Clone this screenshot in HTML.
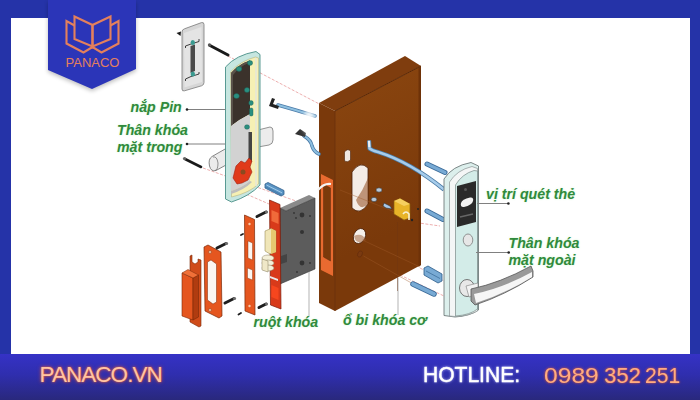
<!DOCTYPE html>
<html><head><meta charset="utf-8">
<style>
html,body{margin:0;padding:0;width:700px;height:400px;overflow:hidden;background:#2533a8;}
#root{position:relative;width:700px;height:400px;overflow:hidden;font-family:"Liberation Sans",sans-serif;}
.lbl{position:absolute;font-family:"Liberation Sans",sans-serif;font-weight:bold;font-style:italic;color:#308a3c;font-size:14.2px;line-height:16.6px;text-shadow:0 0 2px rgba(140,230,140,0.45);white-space:nowrap;}
.bt{position:absolute;white-space:nowrap;font-family:"Liberation Sans",sans-serif;}
</style></head>
<body><div id="root">
<svg width="700" height="400" viewBox="0 0 700 400" style="position:absolute;left:0;top:0">
 <defs>
  <linearGradient id="bar" x1="0" y1="0" x2="0" y2="1">
   <stop offset="0" stop-color="#3532c6"/>
   <stop offset="0.45" stop-color="#2f2eae"/>
   <stop offset="1" stop-color="#29287c"/>
  </linearGradient>
  <linearGradient id="door" gradientUnits="userSpaceOnUse" x1="335" y1="100" x2="400" y2="230"><stop offset="0" stop-color="#88440f"/><stop offset="1" stop-color="#7a390a"/></linearGradient>
  <filter id="sh" x="-20%" y="-20%" width="140%" height="140%"><feGaussianBlur stdDeviation="2"/></filter>
 </defs>
 <rect x="0" y="0" width="700" height="400" fill="#2533a8"/>
 <rect x="11" y="18" width="679" height="336" fill="#ffffff"/>
 <rect x="0" y="354" width="700" height="46" fill="url(#bar)"/>

 <!-- dashed lines (under door) -->
 <g stroke="#e89a9a" stroke-width="0.8" fill="none" stroke-dasharray="3,1.5">
  <line x1="228" y1="56" x2="325" y2="107"/>
  <line x1="203" y1="168" x2="296" y2="201"/>
  <line x1="230" y1="187" x2="269" y2="204"/>
  <line x1="400" y1="275" x2="444" y2="296"/>
  <line x1="420" y1="268" x2="446" y2="282"/>
  <line x1="412" y1="222" x2="440" y2="226"/>
 </g>
 <!-- door block -->
 <polygon points="319,103 405,56 421,66 335,111" fill="#7f3d0e"/>
 <polygon points="319,103 335,111 335,311 319,303" fill="#7a390b"/>
 <polygon points="335,111 421,66 421,265 335,311" fill="url(#door)"/>
 <polyline points="335,111 421,66" stroke="#5a2806" stroke-width="1" fill="none"/>
 <polygon points="418.5,67.5 421,66 421,265 418.5,266.5" fill="#6e3208"/>
 <polyline points="335,111 335,311" stroke="#6a300c" stroke-width="0.8" fill="none"/>
 <!-- door side pocket -->
 <polygon points="321,174 333,180 333,276 321,270" fill="#e86a30"/>
 <polygon points="323.5,184 330.5,188 330.5,261 323.5,257" fill="#7b3a0b" stroke="#5e2a0c" stroke-width="0.5"/>
 <path d="M318,190 Q324,183 331,184" stroke="#f4f4f4" stroke-width="2" fill="none"/>
 <!-- door front holes -->
 <path d="M344.5,152 Q347.5,148 350.5,151 L350.5,160 Q347.5,163 344.5,161 Z" fill="#f0e8e0" stroke="#4a2008" stroke-width="0.6"/>
 <path d="M352,172 Q360,160 368,168 L368,204 Q360,216 352,208 Z" fill="#f4ece6" stroke="#4a2008" stroke-width="0.8"/>
 <path d="M356,200 Q360,212 368,204 L368,178 Q363,190 356,200Z" fill="#9a5a30" opacity="0.6"/>
 <ellipse cx="359.5" cy="236" rx="5.8" ry="7.8" transform="rotate(25 359.5 236)" fill="#f6f0ea" stroke="#4a2008" stroke-width="0.8"/>
 <path d="M354,236 Q356,246 366,240 Q362,232 354,236Z" fill="#9a5a30" opacity="0.5"/>
 <ellipse cx="360" cy="254" rx="2.2" ry="3.2" transform="rotate(25 360 254)" fill="#7a3a10" stroke="#5e2a0c" stroke-width="0.5"/>
 <g stroke="#73360e" stroke-width="0.7" fill="none">
  <line x1="397.5" y1="222" x2="397.5" y2="291"/>
 </g>
 <g stroke="#a05a2a" stroke-width="0.6" fill="none" opacity="0.7">
  <line x1="362.5" y1="240" x2="420" y2="267"/>
  <line x1="363.5" y1="256" x2="415" y2="285"/>
  <line x1="340" y1="190" x2="395" y2="212"/>
 </g>
 <!-- cable hook -->
 <path d="M369,140.5 L369.5,148.5 Q372,150.5 378,152 Q410,162 444,189.5" stroke="#4a7aa4" stroke-width="4.2" fill="none" stroke-linejoin="round"/>
 <path d="M369,140.5 L369.5,148.5 Q372,150.5 378,152 Q410,162 444,189.5" stroke="#a6cceb" stroke-width="2.6" fill="none" stroke-linejoin="round"/>
 <line x1="369" y1="141" x2="369.3" y2="147" stroke="#f0f0f0" stroke-width="2"/>
 <!-- small pins -->
 <ellipse cx="379" cy="190" rx="3" ry="2.2" fill="#b8c8d8" stroke="#333" stroke-width="0.6"/>
 <ellipse cx="374" cy="199.5" rx="2.8" ry="2.2" fill="#b8c8d8" stroke="#333" stroke-width="0.6"/>
 <polygon points="384,203 390,206 392,209 386,208 383,206" fill="#a8c8e8" stroke="#333" stroke-width="0.6"/>
 <!-- cylinder -->
 <polygon points="394,201 400,198.5 410,204 410,218 404,220 394,214" fill="#e8b428" stroke="#8a6010" stroke-width="0.7"/>
 <polygon points="394,201 400,198.5 410,204 404,206" fill="#f6d060"/>
 <path d="M403,214 Q406,210 409,214 L409,220" stroke="#f8f0d0" stroke-width="1.6" fill="none"/>
 <circle cx="412" cy="220" r="1.2" fill="#222"/>
 <circle cx="418" cy="209" r="1" fill="#222"/>



 <!-- battery cover -->
 <path d="M182,32 Q182,29.5 184.5,28.8 L201.5,22.6 Q204,22 204,24.5 L204,82.5 Q204,85 201.5,85.8 L184.5,90.8 Q182,91.5 182,89 Z" fill="#d6d6d6" stroke="#7a7a7a" stroke-width="0.8"/>
 <path d="M184,33 L201.5,27 L202,82 L184.5,87.5 Z" fill="#e4e4e4"/>
 <polygon points="190.5,46 195,44.5 195,71 190.5,73" fill="#4a4a4a"/>
 <g stroke="#2a2a2a" stroke-width="0.9" fill="none">
  <polyline points="185.5,48 185.5,46 191,44 199,41.5 199,39"/>
  <polyline points="185.5,81 185.5,79 191,76.5 199,74 199,72"/>
 </g>
 <ellipse cx="192.8" cy="42.5" rx="2.2" ry="2.6" fill="#3a9a90"/>
 <ellipse cx="192.8" cy="74" rx="2.2" ry="2.6" fill="#3a9a90"/>
 <polygon points="176.5,33 181,31.5 180.5,36" fill="#1a1a1a"/>
 <line x1="210" y1="45.5" x2="228" y2="55" stroke="#1a1a1a" stroke-width="3" stroke-linecap="round"/>
 <circle cx="209.5" cy="45" r="1.7" fill="#555"/>
 <line x1="185" y1="159" x2="201" y2="167" stroke="#1a1a1a" stroke-width="2.6" stroke-linecap="round"/><circle cx="184.5" cy="158.5" r="1.6" fill="#666"/>

 <!-- inner handle lever -->
 <path d="M226,148.5 L212,156.5 Q208,159 209.5,166 Q211,172 216,170.5 L226,165 Z" fill="#ececec" stroke="#6a6a6a" stroke-width="0.8"/><path d="M213,157 Q217,156 218,163 Q218,170 215,170.5" fill="none" stroke="#6a6a6a" stroke-width="0.7"/>
 <path d="M258,130 L270,127 Q273,127 273,131 L273,140 Q273,144 269,145 L258,147 Z" fill="#ececec" stroke="#7a7a7a" stroke-width="0.8"/>

 <!-- inner lock body -->
 <path d="M225.5,67 Q236,55 256,51.5 L260,54.5 L260,185 Q250,196 231.5,202 L225.5,199 Z" fill="#c6e6e0" stroke="#4a9088" stroke-width="0.9"/>
 <path d="M230.5,72 Q240,61 255.5,57 L258.5,58 L258.5,184 Q249,193 231.5,197 Z" fill="#f6f0b4" stroke="#a8a878" stroke-width="0.5"/>
 <line x1="256" y1="58" x2="256" y2="186" stroke="#e8e8d8" stroke-width="1.6"/>
 <path d="M231,73 Q239,64 250,60.5 L250,114 Q240,119 231,126 Z" fill="#3b322b"/>
 <path d="M231,73 Q239,64 250,60.5 L250,62.5 Q240,66 233,75 L233,125 L231,126 Z" fill="#5a524a"/>
 <path d="M231,126 Q240,119 250,114 L250,181 Q243,187 231,191 Z" fill="#d2d2d2"/>
 <path d="M231,191 Q243,187 250,181 L252,182 Q244,190 231,194 Z" fill="#bdbdbd"/>
 <rect x="248.5" y="132" width="3.5" height="30" fill="#444"/>
 <path d="M236,166 L241,161 L245,163 L249,158 L252,161 L250,167 L252,172 L248,180 L242,183 L237,184 L233,178 Z" fill="#e03a1a" stroke="#a02010" stroke-width="0.6"/>
 <circle cx="243" cy="172" r="2.5" fill="#8a4a20"/>
 <g fill="#2a8f80" stroke="#1a5a50" stroke-width="0.4">
  <ellipse cx="239" cy="69" rx="2.8" ry="2.4"/><ellipse cx="250" cy="63" rx="2.6" ry="2.4"/><ellipse cx="236.5" cy="96" rx="2.8" ry="2.5"/>
  <ellipse cx="247" cy="90" rx="2.6" ry="2.5"/><ellipse cx="251" cy="103" rx="2.3" ry="2.4"/><rect x="249.5" y="108" width="3.5" height="8" rx="1.5"/>
  <ellipse cx="247" cy="127" rx="2.5" ry="2.3"/>
 </g>

 <!-- cables left -->
 <path d="M278,105 Q296,110 315,116" stroke="#4a7aa8" stroke-width="3.6" fill="none" stroke-linecap="round"/>
 <path d="M278,105 Q296,110 315,116" stroke="#8ec0e0" stroke-width="2" fill="none" stroke-linecap="round"/>
 <polygon points="269,106 272,98 275,99 273,104 279,106 278,109" fill="#222"/>
 <path d="M304,136 Q311,140 312,146 Q314,152 319,154" stroke="#4a7aa8" stroke-width="3.6" fill="none" stroke-linecap="round"/>
 <path d="M304,136 Q311,140 312,146 Q314,152 319,154" stroke="#8ec0e0" stroke-width="2" fill="none" stroke-linecap="round"/>
 <polygon points="295,134 300,129 306,133 305,137" fill="#333"/>

 <ellipse cx="309" cy="122" rx="6" ry="12" fill="#ffffff" opacity="0.9" filter="url(#sh)"/>
 <!-- blue pin between lock & mortise -->
 <polygon points="265,184 268,182.5 284,190.5 284,194.5 281,196 265,188" fill="#5a94c4" stroke="#2e5e8c" stroke-width="0.8"/>
 <line x1="266.5" y1="185" x2="282" y2="192.8" stroke="#a8d0ec" stroke-width="0.9"/>
 <line x1="266" y1="187" x2="281.5" y2="194.8" stroke="#3a70a0" stroke-width="0.7"/>
<!-- strike box -->
 <polygon points="190,256 192,255 192,262 195,264 198,262 198,259 201,260 201,326 199,327 190,322" fill="#d04c1a" stroke="#7a2a08" stroke-width="0.6"/>
 <polygon points="182,273 193,278 193,320 182,316" fill="#e5561f" stroke="#7a2a08" stroke-width="0.6"/>
 <polygon points="193,278 198.5,275 198.5,317 193,320" fill="#b03c10" stroke="#7a2a08" stroke-width="0.6"/>
 <polygon points="182,273 188,269.5 198.5,275 193,278" fill="#f07038" stroke="#7a2a08" stroke-width="0.5"/>
 <!-- strike plate -->
 <polygon points="204,247 208,245 221,252 222,316 219,318 205,311" fill="#e5561f" stroke="#7a2a08" stroke-width="0.7"/>
 <polygon points="207.5,262 211,260 216.5,264 216.5,302 213,304 207.5,300" fill="#fbf6f2" stroke="#7a2a08" stroke-width="0.5"/>
 <circle cx="210" cy="252" r="1.5" fill="#f6c0a0" stroke="#7a2a08" stroke-width="0.4"/>
 <circle cx="210" cy="310" r="1.5" fill="#f6c0a0" stroke="#7a2a08" stroke-width="0.4"/>
 <!-- third faceplate -->
 <polygon points="244.5,215 254.5,219.5 255,315 245,311" fill="#e5561f" stroke="#7a2a08" stroke-width="0.7"/>
 <polygon points="248,241 252.5,243 252.5,260 248,258" fill="#fbf6f2" stroke="#7a2a08" stroke-width="0.4"/>
 <polygon points="247.5,268 252.5,270 252.5,280 247.5,278" fill="#fbf6f2" stroke="#7a2a08" stroke-width="0.4"/>
 <circle cx="249.5" cy="224" r="1.2" fill="#f8c8a8"/>
 <circle cx="249.5" cy="306" r="1.2" fill="#f8c8a8"/>
 <!-- screws -->
 <g stroke="#1e1e1e" stroke-width="3" stroke-linecap="round">
  <line x1="217" y1="248" x2="226" y2="243.5"/>
  <line x1="225" y1="303" x2="234" y2="298.5"/>
  <line x1="257" y1="216.5" x2="266" y2="212"/>
  <line x1="259" y1="307.5" x2="266" y2="304"/>
 </g>
 <g fill="#707070">
  <circle cx="226.5" cy="243.5" r="1.6"/><circle cx="234.5" cy="298.5" r="1.6"/><circle cx="266.5" cy="212" r="1.6"/><circle cx="266.5" cy="304" r="1.5"/>
 </g>
 <g stroke="#1e1e1e" stroke-width="1.8" stroke-linecap="round">
  <line x1="238.5" y1="314.5" x2="241" y2="313"/>
  <line x1="241" y1="235" x2="243" y2="234"/>
 </g>
 <!-- mortise body -->
 <polygon points="280,208 309,195 315,198 286,211" fill="#8a8a8a"/>
 <polygon points="280,208 286,211 315,198 315,269 280,284" fill="#5c5c5c" stroke="#333" stroke-width="0.6"/>
 <g fill="#333">
  <circle cx="302" cy="215" r="2.4"/><circle cx="302" cy="232" r="2"/><circle cx="302" cy="263" r="2.4"/>
  <circle cx="294" cy="213" r="0.9"/><circle cx="296" cy="218" r="0.9"/><circle cx="310" cy="216" r="0.9"/>
  <circle cx="310" cy="263" r="0.9"/><circle cx="297" cy="272" r="0.9"/>
 </g>
 <polygon points="281,256 287,254 287,262 281,264" fill="#444"/>
 <!-- mortise faceplate -->
 <polygon points="269.5,200 280,204.5 281,309 270.5,305" fill="#d83a1a" stroke="#7a1a08" stroke-width="0.7"/>
 <polygon points="271.5,210 278.5,213 278.5,224 271.5,221" fill="#f06a3a"/>
 <polygon points="271.5,285 278.5,288 278.5,300 271.5,297" fill="#f6461e"/>
 <!-- latch -->
 <polygon points="265,231 271,228.5 276,231 276,252 270,254 265,251" fill="#f0e6b8" stroke="#8a7a40" stroke-width="0.5"/>
 <polygon points="271,228.5 276,231 276,252 271,254" fill="#e6c870"/>
 <g fill="#f4f0d8" stroke="#8a8060" stroke-width="0.5">
  <ellipse cx="268" cy="258" rx="6" ry="3"/>
  <ellipse cx="268" cy="263" rx="6" ry="3"/>
  <ellipse cx="268" cy="268" rx="6" ry="3"/>
 </g>
 <polygon points="262,259 268,261 268,272 262,270" fill="#efe8c8" stroke="#8a8060" stroke-width="0.5"/>
 <polygon points="270,276 278,279 278,281 270,278" fill="#e8e8e8"/>

 <!-- pins right of door -->
 <g stroke-linecap="round">
  <line x1="427" y1="164" x2="445" y2="172.5" stroke="#3a6a98" stroke-width="5"/>
  <line x1="427" y1="164" x2="445" y2="172.5" stroke="#78aad4" stroke-width="3.2"/>
  <line x1="427" y1="211" x2="443" y2="219.5" stroke="#3a6a98" stroke-width="5"/>
  <line x1="427" y1="211" x2="443" y2="219.5" stroke="#78aad4" stroke-width="3.2"/>
  <line x1="413" y1="284" x2="434" y2="294" stroke="#3a6a98" stroke-width="5.5"/>
  <line x1="413" y1="284" x2="434" y2="294" stroke="#78aad4" stroke-width="3.8"/>
 </g>
 <polygon points="424,268 428,266 442,274 442,281 438,283 424,275" fill="#78aad4" stroke="#2a5a88" stroke-width="0.8"/>
 <line x1="426" y1="271" x2="440" y2="278.5" stroke="#2a5a88" stroke-width="0.6"/>

 <!-- outer lock plate -->
 <path d="M444,179 Q452,166 471,162.5 L478.5,166 L478.5,310 Q470,316 455,317 L444,315.5 Z" fill="#dcefec" stroke="#6f7a7a" stroke-width="0.9"/>
 <path d="M449.5,182 Q457,170 472,166.5 L477.5,168.5 L477.5,311 Q468,316 455,316.5 L449.5,316 Z" fill="#f4f6f6" stroke="#8a9494" stroke-width="0.7"/>
 <path d="M455.5,185 Q462,174 474,170.5 L477.5,171 L477.5,309 Q470,315 455.5,316 Z" fill="#d3ece8" stroke="#7a8a88" stroke-width="0.7"/>
 <polygon points="457,186 476,181 476,222 457,227" fill="#2a2a2a"/>
 <path d="M461,203 Q462,199 470,197.5 Q474,197 473,201 Q472,205 464,207 Q460,207.5 461,203Z" fill="#f2f2f2"/>
 <circle cx="465.5" cy="189.5" r="1.5" fill="#555"/>
 <line x1="460" y1="217" x2="473" y2="214" stroke="#666" stroke-width="1.4"/>
 <ellipse cx="468" cy="240" rx="4.8" ry="6" fill="#e6e6e6" stroke="#7a7a7a" stroke-width="0.8"/>
 <!-- handle -->
 <ellipse cx="467" cy="288" rx="7.5" ry="8.5" fill="#e8e8e8" stroke="#6a6a6a" stroke-width="0.9"/>
 <path d="M466,286 L478,283 L478,295 L469,297 Z" fill="#f2f2f2" stroke="#7a7a7a" stroke-width="0.6"/>
 <path d="M471,289 Q500,283 531,266 L533,271 L533,277 Q505,295 475,305 L471,301 Z" fill="#9a9a9a" stroke="#555" stroke-width="0.8"/>
 <path d="M474,294 Q503,288 532,272 L532,277 Q505,294 476,303 Z" fill="#f6f6f6"/>

 <!-- leader lines -->
 <g stroke="#808080" stroke-width="1">
  <line x1="187" y1="109.5" x2="225.5" y2="109.5"/>
  <line x1="187" y1="144" x2="225.5" y2="144"/>
  <line x1="477" y1="203.5" x2="508" y2="203.5"/>
  <line x1="476" y1="252.5" x2="508.5" y2="252.5"/>
 </g>
 <g stroke="#aaa" stroke-width="0.9">
  <line x1="309" y1="272" x2="309" y2="316"/>
  <line x1="398" y1="277.5" x2="398" y2="315"/>
 </g>
 <g fill="#222">
  <circle cx="187" cy="109.5" r="1.3"/><circle cx="187" cy="144" r="1.3"/>
  <circle cx="508.4" cy="203.5" r="1.3"/><circle cx="508.7" cy="252.5" r="1.3"/>
 </g>

 <!-- badge -->
 <polygon points="48,0 136,0 136,69 92,89 48,70" fill="#000" opacity="0.25" filter="url(#sh)" transform="translate(0,2)"/>
 <polygon points="48,0 136,0 136,69 92,89 48,70" fill="#2b35b8"/>
 <g fill="none" stroke="#e4805c" stroke-width="2.1" stroke-linejoin="miter">
  <polygon points="74.5,16.5 92.5,25 92.5,46.5 74.5,39"/>
  <polygon points="110.5,16.5 92.5,25 92.5,46.5 110.5,39"/>
  <polyline points="74.5,25.5 66.5,21 66.5,43.5 83.5,52.5 92.5,47 101.5,52.5 118.5,43.5 118.5,21 110.5,25.5"/>
 </g>
 <circle cx="92.5" cy="47" r="1.6" fill="#e4805c"/>
 <text x="92.5" y="67" text-anchor="middle" font-family="Liberation Sans" font-size="13" fill="#e4805c" letter-spacing="0">PANACO</text>

</svg>

<div class="lbl" style="left:130.5px;top:99px;">nắp Pin</div>
<div class="lbl" style="left:117px;top:122px;">Thân khóa<br>mặt trong</div>
<div class="lbl" style="left:486px;top:186px;">vị trí quét thẻ</div>
<div class="lbl" style="left:508.5px;top:235px;">Thân khóa<br>mặt ngoài</div>
<div class="lbl" style="left:253.5px;top:314px;">ruột khóa</div>
<div class="lbl" style="left:343px;top:312px;">ổ bi khóa cơ</div>

<div class="bt" style="left:39.5px;top:362px;font-size:22.5px;letter-spacing:-0.95px;color:#ffc4a4;text-shadow:0 0 2px #ff6a28,0 0 4px rgba(255,90,30,0.6);">PANACO.VN</div>
<div class="bt" style="left:422.5px;top:361.5px;font-size:22.5px;letter-spacing:0px;color:#ffffff;text-shadow:0 0 3px #c8c8ff;-webkit-text-stroke:0.45px #fff;transform:scaleX(0.935);transform-origin:0 0;">HOTLINE:</div>
<div class="bt" style="left:543.5px;top:362.5px;font-size:22px;color:#ffac80;text-shadow:0 0 2.5px #ff6020;transform-origin:0 0;transform:scaleX(1.12);">0989</div><div class="bt" style="left:604px;top:362.5px;font-size:22px;color:#ffac80;text-shadow:0 0 2.5px #ff6020;transform-origin:0 0;">352</div><div class="bt" style="left:645px;top:362.5px;font-size:22px;color:#ffac80;text-shadow:0 0 2.5px #ff6020;transform-origin:0 0;transform:scaleX(0.96);">251</div>
</div></body></html>
